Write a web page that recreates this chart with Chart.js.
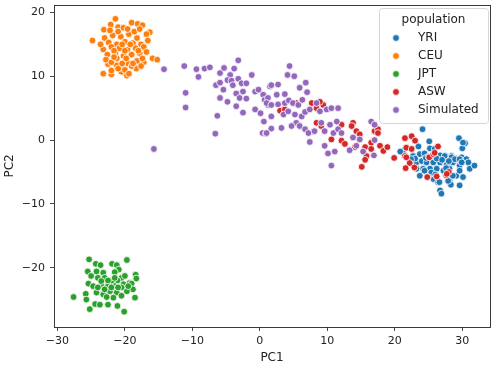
<!DOCTYPE html>
<html>
<head>
<meta charset="utf-8">
<script src="https://cdn.jsdelivr.net/npm/chart.js@4"></script>
<style>
  body { margin: 0; background: #fff; }
  canvas { display: block; }
</style>
</head>
<body>
<canvas id="myChart" width="496" height="366"></canvas>
<script>
// population names + colours (tab10)
const populations = ['YRI', 'CEU', 'JPT', 'ASW', 'Simulated'];
const colors = ['#1f77b4', '#ff7f0e', '#2ca02c', '#d62728', '#9467bd'];

// tick labels
const xTicks = [-30, -20, -10, 0, 10, 20, 30];
const yTicks = [-20, -10, 0, 10, 20];

// [PC1, PC2]
const yri = [
  [24.1,1.7],[21.2,-1.7],[25.1,-0.2],[29.5,0.3],[30.4,-0.5],[30.0,-1.3],[30.1,-0.4],
  [23.5,-1.0],[22.7,-2.5],[23.7,-2.2],[24.4,-2.1],[25.7,-2.0],[26.7,-2.4],[27.4,-2.5],[28.4,-2.5],
  [29.1,-2.9],[29.9,-2.7],[30.6,-3.0],[30.9,-3.5],[31.1,-4.5],
  [23.2,-3.5],[24.0,-3.3],[24.7,-3.5],[25.7,-3.5],[26.7,-3.5],[27.7,-3.8],[28.6,-3.5],[29.6,-4.0],
  [28.1,-4.5],[27.2,-4.8],[26.2,-4.5],[25.2,-4.5],[24.2,-4.5],[23.2,-4.5],
  [23.7,-5.6],[25.7,-6.1],[26.4,-6.6],[26.7,-7.9],[26.9,-8.4],[28.1,-6.4],[28.3,-7.0],[29.6,-7.1],
  [29.1,-5.6],[30.1,-5.8],[25.4,-5.1],[23.0,-2.9],[25.2,-1.3],[25.9,-1.4],[28.4,-2.7],[28.9,-3.0],
  [29.6,-3.0],[28.0,-3.3],[29.9,-3.5],[29.6,-4.8],[28.6,-5.6],[26.6,-6.6],[27.9,-6.4],[24.9,-5.8],
  [24.4,-4.8],[21.2,-2.0],[24.6,-2.8],[26.2,-2.9],[27.0,-3.1],[25.0,-2.6],[27.6,-4.4],[26.0,-5.4],
  [22.4,-3.0],[31.8,-4.0],[20.8,-1.8]
];

const ceu = [
  [-24.8,15.6],[-21.4,19.0],[-19.0,18.4],[-18.1,18.2],[-17.4,18.0],[-23.1,17.3],[-22.1,18.1],[-21.0,17.7],
  [-16.3,16.9],[-16.8,16.6],[-15.9,12.8],[-15.2,12.6],[-17.2,12.2],[-23.2,10.4],[-22.0,10.3],[-20.5,10.7],
  [-19.7,10.1],[-18.3,11.2],[-22.5,11.9],[-21.2,11.7],[-19.5,12.0],
  [-23.0,16.0],[-22.4,15.3],[-21.8,16.4],[-21.2,15.0],[-20.6,16.2],[-20.0,15.4],[-19.4,16.6],[-18.8,15.2],
  [-18.2,16.0],[-17.6,15.0],[-23.2,14.2],[-22.6,13.4],[-22.0,14.6],[-21.4,13.6],[-20.8,14.4],[-20.2,13.2],
  [-19.6,14.2],[-19.0,13.4],[-18.4,14.4],[-17.8,13.6],[-17.2,14.6],[-22.8,12.6],[-22.0,12.2],[-21.2,12.8],
  [-20.4,12.0],[-19.8,12.8],[-19.0,11.6],[-18.2,12.4],[-17.4,12.8],[-22.2,17.2],[-21.0,17.0],[-20.2,17.6],
  [-19.6,17.4],[-18.6,17.0],[-17.8,17.4],[-21.6,14.0],[-20.4,15.0],[-19.2,15.0],[-20.0,14.0],[-18.0,14.0],
  [-21.0,11.2],[-16.6,15.6],[-16.8,13.8],[-23.6,15.0],[-22.0,10.9],[-20.0,11.0],[-17.6,11.6],[-19.4,10.4],
  [-18.8,12.0],[-21.6,13.0]
];

const jpt = [
  [-27.6,-24.6],[-25.3,-18.7],[-19.7,-18.8],[-24.3,-19.4],[-23.6,-19.6],[-21.9,-19.4],[-21.2,-19.6],[-20.9,-20.3],
  [-25.5,-20.6],[-25.0,-21.3],[-24.2,-20.6],[-23.2,-20.8],[-24.0,-21.6],[-23.0,-21.6],
  [-21.5,-20.7],[-20.5,-21.6],[-20.0,-21.3],[-21.1,-22.0],[-21.9,-22.1],[-18.4,-21.1],[-18.3,-21.7],[-19.3,-22.4],
  [-20.2,-22.6],[-25.4,-22.5],[-24.7,-22.9],[-23.5,-22.6],[-22.5,-22.9],[-21.5,-22.9],[-20.5,-23.1],[-19.0,-22.5],
  [-18.8,-23.4],[-25.8,-24.1],[-25.7,-25.0],[-24.2,-23.9],[-23.2,-24.2],[-22.2,-23.7],[-21.2,-23.9],[-20.5,-24.4],
  [-19.7,-23.7],[-18.5,-24.7],[-21.7,-24.7],[-22.7,-24.6],[-24.4,-25.7],[-23.7,-25.8],[-22.5,-25.8],[-21.1,-26.0],
  [-25.2,-26.5],[-20.1,-26.9],[-24.0,-23.1],[-23.0,-23.4],[-22.0,-23.1],[-21.0,-23.1],[-23.5,-22.1],[-22.5,-22.0],
  [-21.5,-21.6],[-19.5,-22.9]
];

const asw = [
  [5.4,5.8],[7.7,5.8],[8.4,5.0],[9.4,5.5],[8.9,6.0],[3.0,4.6],[3.7,4.8],[8.0,1.4],[8.4,2.7],[9.1,2.2],
  [12.1,2.4],[13.8,2.7],[14.3,1.4],[14.8,0.9],[13.6,2.2],[10.6,0.1],[12.1,-0.1],[12.6,-0.6],
  [14.1,-1.1],[15.6,-1.1],[15.8,-2.5],[15.6,-3.1],[16.5,-0.4],[17.0,1.4],[17.5,1.7],[16.5,-1.4],
  [17.8,-0.9],[18.3,-1.7],[18.9,-1.1],[17.5,1.1],[15.1,-4.2],[19.9,-2.8],
  [21.5,0.3],[22.5,0.6],[23.0,-0.1],[21.7,-1.2],[22.5,-1.4],[21.5,-2.5],[22.2,-3.6],[21.6,-4.4],
  [22.9,-4.3],[21.7,-2.7],[25.1,-2.7],[25.7,-2.2],[26.4,-1.0],[25.9,-2.0],[24.8,-5.8],[26.2,-5.7],
  [27.6,-5.5],[28.0,-5.0],[27.7,-5.3]
];

const simulated = [
  [-14.2,11.1],[-11.2,11.6],[-11.0,7.4],[-11.0,5.1],[-9.4,11.1],[-8.2,11.2],[-7.4,11.4],[-9.1,9.9],[-6.3,3.8],[-6.6,1.0],
  [-5.9,10.5],[-5.3,11.3],[-4.4,10.2],[-3.8,11.2],[-3.2,12.5],[-6.5,8.6],[-5.9,9.0],[-4.8,9.4],[-4.2,9.3],[-5.4,7.9],
  [-3.2,9.6],[-2.7,8.9],[-2.0,8.9],[-4.0,8.6],[-1.2,10.2],[-3.5,7.3],[-2.5,7.6],[-3.0,6.6],[-5.9,6.6],[-4.8,6.0],
  [-3.5,5.3],[-2.5,4.3],[-2.0,6.5],[-0.7,7.6],[-0.2,7.9],[0.5,7.1],[-0.7,4.8],[0.1,4.2],[0.7,6.3],[1.2,5.5],
  [0.6,2.9],[0.4,1.1],[1.5,8.4],[-15.7,-1.4],[0.9,1.0],[1.7,1.8],
  [4.4,11.6],[4.1,10.2],[5.1,10.0],[1.7,8.6],[2.7,8.7],[5.9,8.2],[6.8,9.0],[7.0,7.5],[2.5,7.1],[3.7,7.2],
  [1.2,6.6],[1.0,5.8],[1.7,5.5],[2.7,5.6],[3.7,5.8],[4.3,6.2],[4.9,5.8],[5.7,5.5],[6.3,6.3],
  [1.7,3.7],[3.5,4.0],[4.2,4.5],[5.2,4.0],[6.2,3.7],[5.4,2.7],[6.7,4.4],[7.4,4.8],[8.4,5.8],[8.9,4.5],
  [9.9,4.8],[10.6,5.0],[11.6,5.0],
  [1.0,1.1],[3.2,1.9],[4.7,2.2],[5.9,2.2],[6.7,1.7],[7.2,1.1],[8.1,1.4],[9.1,2.7],[9.6,1.4],[10.4,2.4],
  [10.9,1.1],[11.4,2.9],[11.6,1.7],[12.1,1.1],
  [7.4,-0.3],[9.6,-0.9],[10.1,-2.1],[11.1,-1.8],[10.6,-4.0],
  [13.3,-1.6],[14.3,-0.9],[13.8,0.4],[14.8,0.1],[15.3,-1.8],[16.5,2.9],[17.0,2.4],[17.0,0.0],[16.9,-2.4]
];

const seriesData = [yri, ceu, jpt, asw, simulated];

const fontFamily = '"DejaVu Sans", sans-serif';
const textColor = '#222';
const minus = v => String(v).replace('-', '\u2212');

// frame around the plot + legend box inside the plot
const framePlugin = {
  id: 'frame',
  afterDraw(chart) {
    const c = chart.ctx;
    const a = chart.chartArea;
    c.save();
    c.strokeStyle = '#262626';
    c.lineWidth = 0.9;
    c.strokeRect(Math.round(a.left) + 0.5, Math.round(a.top) + 0.5,
      Math.round(a.right - a.left), Math.round(a.bottom - a.top));

    // legend
    const bx = 379, by = 8, bw = 109, bh = 115, r = 3;
    c.beginPath();
    c.roundRect(bx + 0.5, by + 0.5, bw, bh, r);
    c.fillStyle = 'rgba(255,255,255,0.8)';
    c.fill();
    c.strokeStyle = '#d6d6d6';
    c.lineWidth = 1;
    c.stroke();

    c.fillStyle = textColor;
    c.font = '12px ' + fontFamily;
    c.textBaseline = 'middle';
    c.textAlign = 'center';
    c.fillText('population', bx + bw / 2, 19.5);
    c.textAlign = 'left';
    populations.forEach((name, i) => {
      const yy = 38 + i * 18;
      c.beginPath();
      c.arc(396, yy, 3.4, 0, Math.PI * 2);
      c.fillStyle = colors[i];
      c.fill();
      c.strokeStyle = '#fff';
      c.lineWidth = 0.8;
      c.stroke();
      c.fillStyle = textColor;
      c.fillText(name, 418, yy);
    });
    c.restore();
  }
};

const ctx = document.getElementById('myChart');

new Chart(ctx, {
  type: 'scatter',
  data: {
    datasets: populations.map((name, i) => ({
      label: name,
      data: seriesData[i].map(p => ({ x: p[0], y: p[1] })),
      backgroundColor: colors[i],
      borderColor: '#ffffff',
      borderWidth: 0.8,
      pointRadius: 3.4,
      order: populations.length - i   // later populations on top, like seaborn
    }))
  },
  options: {
    responsive: false,
    animation: false,
    layout: { padding: { top: 3, right: 6, left: 0, bottom: 0 } },
    plugins: {
      legend: { display: false },
      tooltip: { enabled: false }
    },
    scales: {
      x: {
        type: 'linear',
        min: -30.5,
        max: 34.1,
        afterFit: scale => {
          scale.height = 39;
          scale.paddingLeft = 0;
          scale.paddingRight = 0;
        },
        afterBuildTicks: scale => { scale.ticks = xTicks.map(v => ({ value: v })); },
        border: { display: false },
        grid: { drawOnChartArea: false, tickLength: 4, color: '#333', lineWidth: 0.9 },
        ticks: {
          padding: 4,
          maxRotation: 0,
          color: textColor,
          font: { family: fontFamily, size: 11 },
          callback: v => minus(v)
        },
        title: {
          display: true,
          text: 'PC1',
          color: textColor,
          padding: { top: 2, bottom: 1 },
          font: { family: fontFamily, size: 12 }
        }
      },
      y: {
        type: 'linear',
        min: -29.3,
        max: 21.2,
        afterFit: scale => {
          scale.width = 54;
          scale.paddingTop = 0;
          scale.paddingBottom = 0;
        },
        afterBuildTicks: scale => { scale.ticks = yTicks.map(v => ({ value: v })); },
        border: { display: false },
        grid: { drawOnChartArea: false, tickLength: 4, color: '#333', lineWidth: 0.9 },
        ticks: {
          padding: 5,
          color: textColor,
          font: { family: fontFamily, size: 11 },
          callback: v => minus(v)
        },
        title: {
          display: true,
          text: 'PC2',
          color: textColor,
          padding: { top: 3, bottom: 2 },
          font: { family: fontFamily, size: 12 }
        }
      }
    }
  },
  plugins: [framePlugin]
});
</script>
</body>
</html>
